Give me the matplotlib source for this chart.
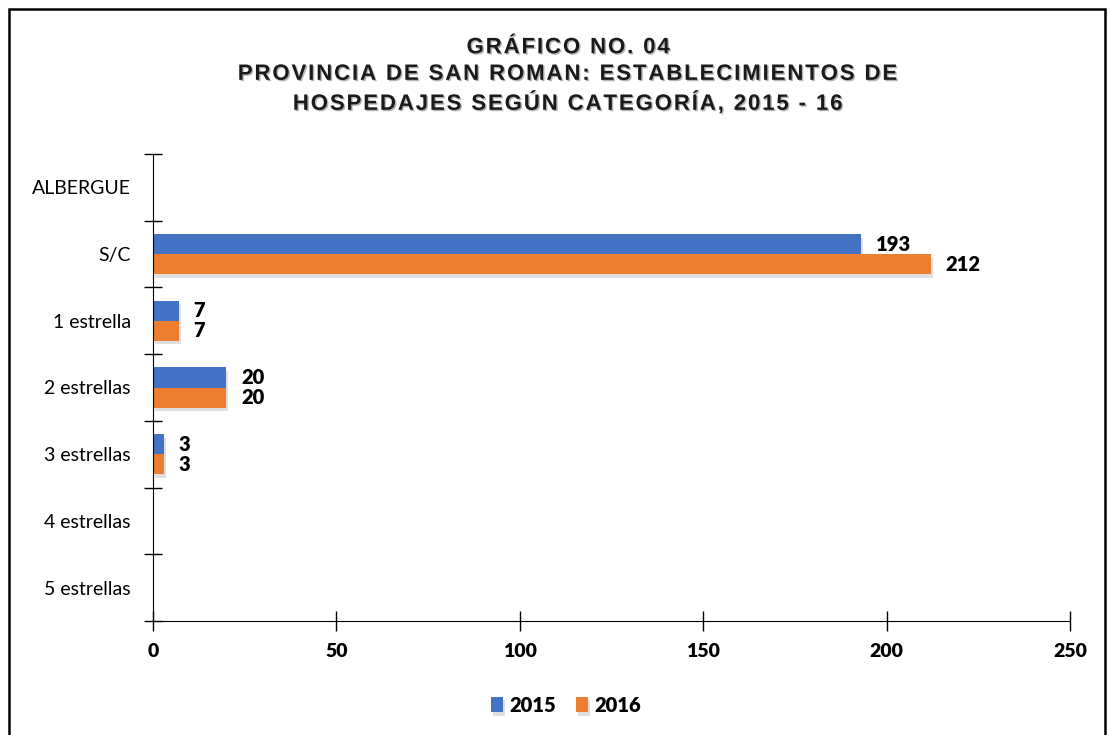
import numpy as np
import matplotlib
matplotlib.use("Agg")
import matplotlib.pyplot as plt
import matplotlib.patheffects as pe
from matplotlib.patches import Rectangle

# ==============================
# Data
# ==============================
categories = ["ALBERGUE", "S/C", "1 estrella", "2 estrellas",
              "3 estrellas", "4 estrellas", "5 estrellas"]
v2015 = [np.nan, 193, 7, 20, 3, np.nan, np.nan]
v2016 = [np.nan, 212, 7, 20, 3, np.nan, np.nan]
years = ["2015", "2016"]
x_ticks = [0, 50, 100, 150, 200, 250]

title_lines = ["GRÁFICO NO. 04",
               "PROVINCIA DE SAN ROMAN: ESTABLECIMIENTOS DE",
               "HOSPEDAJES SEGÚN CATEGORÍA, 2015 - 16"]

blue = "#4472C4"
orange = "#ED7D31"
label_font = "Lato"

# ==============================
# Figure
# ==============================
fig = plt.figure(figsize=(11.1, 7.35), dpi=100)
ax = fig.add_axes([153 / 1110, 1 - 621 / 735, (1070 - 153) / 1110, (621 - 154) / 735])

# border around the chart area
fig.patches.append(Rectangle((9 / 1110, -0.02), (1105 - 9) / 1110, 1.02 - 9 / 735,
                             transform=fig.transFigure, fill=False,
                             edgecolor="black", linewidth=1.8))

y = np.arange(len(categories))
h = 0.3
shadow = [pe.withSimplePatchShadow(offset=(1.5, -2.5), shadow_rgbFace="gray", alpha=0.25)]
b1 = ax.barh(y - h / 2, v2015, height=h, color=blue, label=years[0], path_effects=shadow)
b2 = ax.barh(y + h / 2, v2016, height=h, color=orange, label=years[1], path_effects=shadow)

# value labels (only for categories with data)
for bars, vals in [(b1, v2015), (b2, v2016)]:
    for rect, v in zip(bars, vals):
        if np.isfinite(v):
            ax.text(v + 4.0, rect.get_y() + rect.get_height() / 2, f"{v:g}",
                    va="center", ha="left", fontsize=14.5, fontweight="heavy",
                    family=label_font)

ax.set_xlim(0, 250)
ax.set_ylim(len(categories) - 0.5, -0.5)

for s in ["top", "right"]:
    ax.spines[s].set_visible(False)

ax.set_xticks(x_ticks)
ax.set_xticklabels([str(t) for t in x_ticks], fontweight="heavy", fontsize=14, family=label_font)
ax.tick_params(axis="x", direction="inout", length=14, width=1, pad=9)

ax.set_yticks(y)
ax.set_yticklabels(categories, fontsize=14, family=label_font)
ax.set_yticks(np.arange(-0.5, len(categories), 1), minor=True)
ax.tick_params(axis="y", which="major", length=0, pad=16)
ax.tick_params(axis="y", which="minor", direction="inout", length=13, width=1)

# letter-spaced title (hair spaces between characters)
spaced = "\n".join("\u200a".join(line) for line in title_lines)
fig.text(0.512, 1 - 76 / 735, spaced, ha="center", va="center", fontsize=16,
         fontweight="bold", family=["Liberation Sans", "DejaVu Sans"], linespacing=1.35,
         color="#1a1a1a", path_effects=[pe.withSimplePatchShadow(offset=(1, -1), alpha=0.3)])

fig.legend(loc="center", bbox_to_anchor=(0.51, 1 - 705 / 735), ncol=2, frameon=False,
           handlelength=0.6, handleheight=0.8, handletextpad=0.3, columnspacing=1.0,
           prop={"family": label_font, "weight": "heavy", "size": 14.5})

fig.savefig("out.png", dpi=100)
